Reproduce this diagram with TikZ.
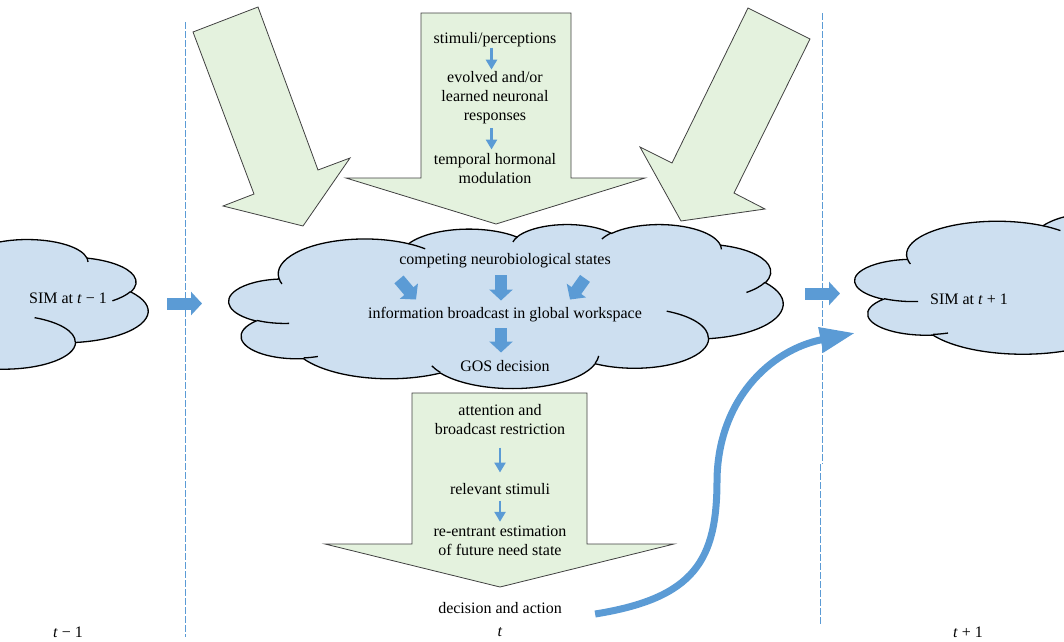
\documentclass[tikz,border=0pt]{standalone}
\usepackage{fontspec}
\setmainfont{Liberation Serif}
\usetikzlibrary{arrows.meta}

\definecolor{cloudblue}{RGB}{205,223,240}
\definecolor{boxgreen}{RGB}{228,242,222}
\definecolor{arrowblue}{RGB}{91,155,213}
\definecolor{edgegrey}{RGB}{64,64,64}

\tikzset{every picture/.style={line width=0.75pt}}
\tikzset{
  cloudline/.style={draw=black, fill=cloudblue, line width=1.3pt},
  cloudcrease/.style={draw=black, line width=1.3pt},
  bigarrow/.style={draw=edgegrey, fill=boxgreen, line width=0.8pt},
  txt/.style={inner sep=0pt, align=center, font=\fontsize{16}{19}\selectfont},
  fatarrow/.style={draw=arrowblue, line width=12pt, -{Triangle[length=11pt,width=23pt]}},
  thinarrow/.style={draw=arrowblue, line width=2.8pt, -{Triangle[length=10pt,width=11pt]}},
  flowarrow/.style={draw=arrowblue, line width=7pt, -{Triangle[length=35pt,width=24pt]}},
  timeline/.style={draw=arrowblue, line width=0.9pt, dash pattern=on 7pt off 2pt}
}

% office cloud outline and creases, in a 432 x 432 box
\def\cloudoutline{}
\def\cloudcreases{}
\foreach \cwr/\chr/\cst/\csw in {67.53/91.90/-190.4875/123.7805, 53.33/72.67/-144.1024/89.9452,
    43.65/59.45/-145.8079/99.7230, 48.57/65.95/-130.9861/117.2417, 53.33/72.73/-78.7089/109.0269,
    67.75/92.20/-46.2673/130.2690, 57.85/78.67/0.6250/114.0333, 67.52/92.15/22.4516/115.1726,
    77.20/105.43/66.2426/75.7110, 43.60/59.18/-274.9421/146.7356, 43.45/59.45/-246.8285/152.5189}{%
  \pgfmathsetmacro\cta{atan2(\cwr*sin(\cst),\chr*cos(\cst))}%
  \pgfmathsetmacro\ctd{mod(atan2(\cwr*sin(\cst+\csw),\chr*cos(\cst+\csw))-\cta+720,360)}%
  \xdef\cloudoutline{\cloudoutline arc[x radius=\cwr, y radius=\chr, start angle=\cta, delta angle=\ctd]}%
}
\foreach \cpx/\cpy/\cwr/\chr/\cst/\csw in {46.93/261.77/43.45/59.45/86.7420/26.4295,
    69.28/348.99/43.60/59.18/73.6105/11.4475, 164.78/390.90/67.52/92.15/137.6242/14.0811,
    288.27/347.51/67.52/92.15/6.4533/15.9984, 341.29/229.54/57.85/78.67/-70.2924/70.9174,
    417.98/153.54/53.33/72.73/30.3180/27.7515, 383.24/54.26/48.57/65.95/-13.7443/14.8589,
    290.78/39.52/48.57/65.95/-149.1815/18.1954, 221.41/47.20/43.65/59.45/-163.4943/17.6864,
    140.00/51.92/67.53/91.90/-66.7070/12.3194, 41.27/157.89/67.53/91.90/157.6544/11.8582}{%
  \pgfmathsetmacro\cta{atan2(\cwr*sin(\cst),\chr*cos(\cst))}%
  \pgfmathsetmacro\ctd{mod(atan2(\cwr*sin(\cst+\csw),\chr*cos(\cst+\csw))-\cta+720,360)}%
  \xdef\cloudcreases{\cloudcreases (\cpx,\cpy) arc[x radius=\cwr, y radius=\chr, start angle=\cta, delta angle=\ctd]}%
}

\begin{document}
\begin{tikzpicture}[x=1pt,y=1pt,yscale=-1,xscale=1]
\useasboundingbox (0,0) rectangle (1064,641);
\clip (0,0) rectangle (1064,641);

%Big arrows (green)
\draw[bigarrow] (193,32) -- (258,7) -- (318,170) -- (350,158) -- (303,226) -- (223,206) -- (254,194) -- cycle;
\draw[bigarrow] (421,13) -- (571,13) -- (571,178) -- (645,178) -- (496,224) -- (346,178) -- (421,178) -- cycle;
\draw[bigarrow] (748,8) -- (810,39) -- (734,193) -- (765,209) -- (681,221) -- (640,147) -- (672,163) -- cycle;
\draw[bigarrow] (412,393) -- (587,393) -- (587,544) -- (674,544) -- (500,587) -- (325,544) -- (412,544) -- cycle;

%Cloud t-1
\begin{scope}[shift={(-392,239)},xscale=1.25,yscale=0.3426]
\path[cloudline] (39,143.7) \cloudoutline -- cycle;
\path[cloudcrease] \cloudcreases;
\end{scope}
%Cloud t
\begin{scope}[shift={(229,224)},xscale=1.2824,yscale=0.3796]
\path[cloudline] (39,143.7) \cloudoutline -- cycle;
\path[cloudcrease] \cloudcreases;
\end{scope}
%Cloud t+1
\begin{scope}[shift={(855,207)},xscale=1.3426,yscale=0.3611]
\path[cloudline] (39,143.7) \cloudoutline -- cycle;
\path[cloudcrease] \cloudcreases;
\end{scope}

% Text Nodes
\node[txt] (stim) at (495,39.5) {stimuli/perceptions};
\node[txt] (evolved) at (495,98) {evolved and/or\\learned neuronal\\responses};
\node[txt] (hormonal) at (495,169) {temporal hormonal\\modulation};
\node[txt] (compete) at (505,260.5) {competing neurobiological states};
\node[txt] (broadcast) at (505,315) {information broadcast in global workspace};
\node[txt] (gos) at (505,366.5) {GOS decision};
\node[txt] (attention) at (500,419.5) {attention and\\broadcast restriction};
\node[txt] (relevant) at (500,489.5) {relevant stimuli};
\node[txt] (reentrant) at (500,541) {re-entrant estimation\\of future need state};
\node[txt] (decision) at (500,608) {decision and action};
\node[txt] (simprev) at (68,298) {SIM at \textit{t} − 1};
\node[txt] (simnext) at (969,299) {SIM at \textit{t} + 1};
\node[txt] (tprev) at (68,632) {\textit{t} − 1};
\node[txt] (tnow) at (500,632) {\textit{t}};
\node[txt] (tnext) at (968,632) {\textit{t} + 1};

%Small arrows
\draw[thinarrow] ([xshift=-3.5pt,yshift=0.5pt]stim.south) -- ([xshift=-3.5pt,yshift=-1.75pt]evolved.north);
\draw[thinarrow] ([xshift=-3.5pt,yshift=3.75pt]evolved.south) -- ([xshift=-3.5pt,yshift=-4pt]hormonal.north);
\draw[thinarrow] ([yshift=12.5pt]attention.south) -- ([yshift=-11pt]relevant.north);
\draw[thinarrow] ([yshift=5pt]relevant.south) -- ([yshift=-4pt]reentrant.north);

%Fat arrows
\draw[fatarrow] ([shift={(-106,11.25)}]compete.south) -- ([shift={(-89,-7.75)}]broadcast.north);
\draw[fatarrow] ([shift={(-4,7.25)}]compete.south) -- ([shift={(-4,-6.75)}]broadcast.north);
\draw[fatarrow] ([shift={(80,10.25)}]compete.south) -- ([shift={(65,-7.75)}]broadcast.north);
\draw[fatarrow] ([shift={(-4,5.75)}]broadcast.south) -- ([shift={(-4,-8)}]gos.north);

%Between clouds
\coordinate (prevout) at (167,303.5);
\coordinate (nowin) at (202,303.5);
\coordinate (nowout) at (805,293.5);
\coordinate (nextin) at (840,293.5);
\draw[fatarrow] (prevout) -- (nowin);
\draw[fatarrow] (nowout) -- (nextin);

%Action to next state
\coordinate (nextentry) at (855,333);
\draw[flowarrow] ([xshift=33pt,yshift=6pt]decision.east) .. controls (695,598) and (717,560) .. (717,480) .. controls (718,400) and (770,350) .. (nextentry);

%Time lines
\draw[timeline] (185,22) -- (185,637);
\draw[timeline] (822,13) -- (822,464);
\draw[timeline] (820,464) -- (820,625);

\end{tikzpicture}
\end{document}
